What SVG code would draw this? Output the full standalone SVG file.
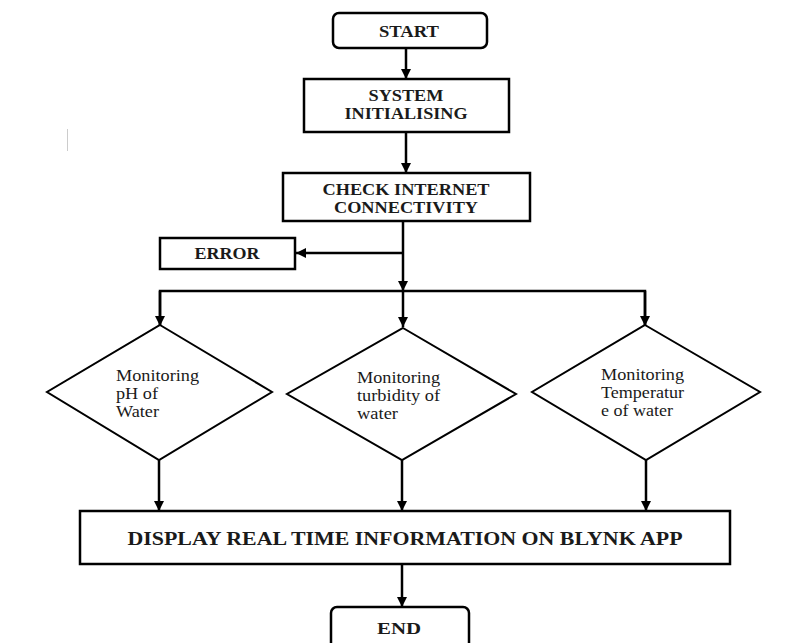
<svg xmlns="http://www.w3.org/2000/svg" width="795" height="643" viewBox="0 0 795 643">
<style>
.box{fill:#fff;stroke:#000;stroke-width:2.5}
.dia{fill:#fff;stroke:#000;stroke-width:2}
.b{font-family:"Liberation Serif","Times New Roman",serif;font-weight:bold;fill:#1a1a1a;text-anchor:middle;font-size:16px}
.r{font-family:"Liberation Serif","Times New Roman",serif;fill:#1a1a1a;font-size:16px}
.c{fill:none;stroke:#000;stroke-width:2.5}
</style>
<defs>
<marker id="ah" viewBox="0 0 10 10" refX="10" refY="5" markerWidth="4" markerHeight="4" orient="auto" markerUnits="strokeWidth">
<path d="M0,0 L10,5 L0,10 z" fill="#000"/>
</marker>
</defs>
<rect width="795" height="643" fill="#fff"/>
<line x1="67.5" y1="129" x2="67.5" y2="151" stroke="#ccc" stroke-width="1"/>
<g id="connectors">
<line class="c" x1="406" y1="48" x2="406" y2="79" marker-end="url(#ah)"/>
<line class="c" x1="406" y1="132" x2="406" y2="173" marker-end="url(#ah)"/>
<line class="c" x1="403" y1="221" x2="403" y2="291" marker-end="url(#ah)"/>
<line class="c" x1="403" y1="253" x2="296" y2="253" marker-end="url(#ah)"/>
<polyline class="c" points="160,327 160,291 645,291 645,325"/>
<line class="c" x1="160" y1="291" x2="160" y2="326" marker-end="url(#ah)"/>
<line class="c" x1="403" y1="291" x2="403" y2="327" marker-end="url(#ah)"/>
<line class="c" x1="645" y1="291" x2="645" y2="326" marker-end="url(#ah)"/>
<line class="c" x1="159" y1="460" x2="159" y2="511" marker-end="url(#ah)"/>
<line class="c" x1="402" y1="460" x2="402" y2="511" marker-end="url(#ah)"/>
<line class="c" x1="646" y1="460" x2="646" y2="511" marker-end="url(#ah)"/>
<line class="c" x1="402" y1="564" x2="402" y2="607" marker-end="url(#ah)"/>
</g>
<g id="start">
<rect class="box" x="333" y="13" width="154" height="35" rx="6"/>
<text class="b" x="409" y="37" textLength="60" lengthAdjust="spacingAndGlyphs">START</text>
</g>
<g id="init">
<rect class="box" x="304" y="79" width="205" height="53"/>
<text class="b" x="406" y="101" textLength="75" lengthAdjust="spacingAndGlyphs">SYSTEM</text>
<text class="b" x="406" y="119" textLength="123" lengthAdjust="spacingAndGlyphs">INITIALISING</text>
</g>
<g id="check">
<rect class="box" x="283" y="173" width="247" height="48"/>
<text class="b" x="406" y="195" textLength="167" lengthAdjust="spacingAndGlyphs">CHECK INTERNET</text>
<text class="b" x="406" y="213" textLength="144" lengthAdjust="spacingAndGlyphs">CONNECTIVITY</text>
</g>
<g id="error">
<rect class="box" x="160" y="238" width="135" height="31"/>
<text class="b" x="227" y="259" textLength="65" lengthAdjust="spacingAndGlyphs">ERROR</text>
</g>
<g id="ph">
<polygon class="dia" points="160,325 272,392 159,460 47,392"/>
<text class="r" x="116" y="381" textLength="83" lengthAdjust="spacingAndGlyphs">Monitoring</text>
<text class="r" x="116" y="399" textLength="42" lengthAdjust="spacingAndGlyphs">pH of</text>
<text class="r" x="116" y="417" textLength="43" lengthAdjust="spacingAndGlyphs">Water</text>
</g>
<g id="turbidity">
<polygon class="dia" points="403,328 516,394 402,460 287,394"/>
<text class="r" x="357" y="383" textLength="83" lengthAdjust="spacingAndGlyphs">Monitoring</text>
<text class="r" x="357" y="401" textLength="83" lengthAdjust="spacingAndGlyphs">turbidity of</text>
<text class="r" x="357" y="419" textLength="41" lengthAdjust="spacingAndGlyphs">water</text>
</g>
<g id="temperature">
<polygon class="dia" points="645,325 760,392 646,460 532,392"/>
<text class="r" x="601" y="380" textLength="83" lengthAdjust="spacingAndGlyphs">Monitoring</text>
<text class="r" x="601" y="398" textLength="83" lengthAdjust="spacingAndGlyphs">Temperatur</text>
<text class="r" x="601" y="416" textLength="72" lengthAdjust="spacingAndGlyphs">e of water</text>
</g>
<g id="display">
<rect class="box" x="80" y="511" width="650" height="53"/>
<text class="b" x="405" y="545" style="font-size:19px" textLength="555" lengthAdjust="spacingAndGlyphs">DISPLAY REAL TIME INFORMATION ON BLYNK APP</text>
</g>
<g id="end">
<rect class="box" x="331" y="607" width="138" height="50" rx="6"/>
<text class="b" x="399" y="634" textLength="44" lengthAdjust="spacingAndGlyphs">END</text>
</g>
</svg>
